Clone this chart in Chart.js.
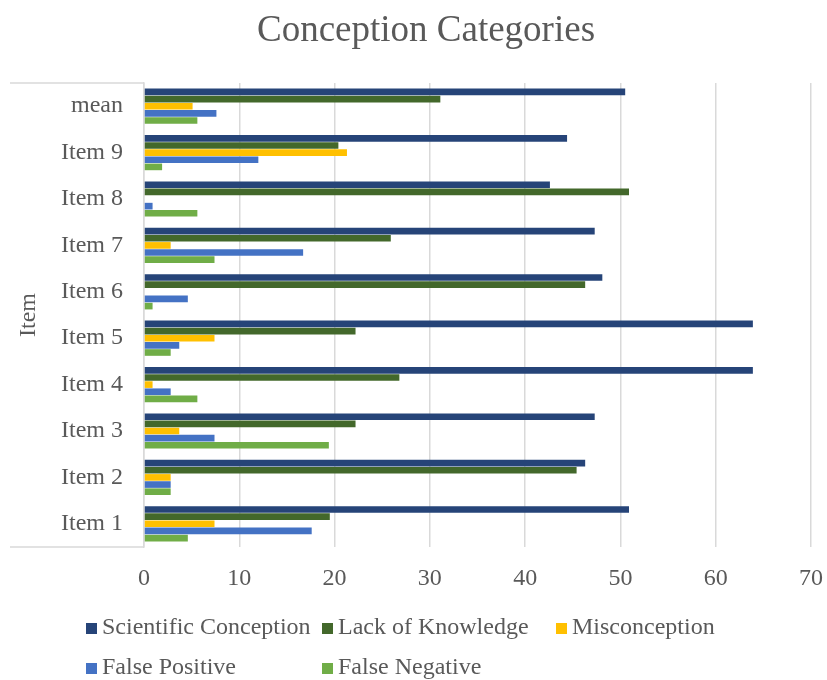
<!DOCTYPE html>
<html>
<head>
<meta charset="utf-8">
<title>Conception Categories</title>
<script src="https://cdn.jsdelivr.net/npm/chart.js@4.4.0/dist/chart.umd.min.js"></script>
<style>
  html, body { margin: 0; padding: 0; background: #ffffff; }
</style>
</head>
<body>
<canvas id="conceptionChart" width="827" height="680"></canvas>
<script>
// data (percent of answers)
const chartTitle = 'Conception Categories';
const items = ['Item 1', 'Item 2', 'Item 3', 'Item 4', 'Item 5', 'Item 6', 'Item 7', 'Item 8', 'Item 9', 'mean'];
const scientificConception = [50.9, 46.3, 47.3, 63.9, 63.9, 48.1, 47.3, 42.6, 44.4, 50.5];
const lackOfKnowledge = [19.5, 45.4, 22.2, 26.8, 22.2, 46.3, 25.9, 50.9, 20.4, 31.1];
const misconception = [7.4, 2.8, 3.7, 0.9, 7.4, 0, 2.8, 0, 21.3, 5.1];
const falsePositive = [17.6, 2.8, 7.4, 2.8, 3.7, 4.6, 16.7, 0.9, 12.0, 7.6];
const falseNegative = [4.6, 2.8, 19.4, 5.6, 2.8, 0.9, 7.4, 5.6, 1.9, 5.6];
const xTicks = [0, 10, 20, 30, 40, 50, 60, 70];

const textColor = '#595959';
const gridColor = '#d9d9d9';
const serif = '"Liberation Serif", "Times New Roman", serif';

// title, category box lines and the two-row legend are drawn by hand
const decorations = {
    id: 'decorations',
    afterDraw(chart) {
        const ctx = chart.ctx;
        const area = chart.chartArea;
        ctx.save();

        ctx.fillStyle = textColor;
        ctx.font = '37px ' + serif;
        ctx.textAlign = 'center';
        ctx.textBaseline = 'middle';
        ctx.fillText(chartTitle, 426, 31);

        ctx.strokeStyle = gridColor;
        ctx.lineWidth = 1.5;
        ctx.beginPath();
        ctx.moveTo(10, area.top);
        ctx.lineTo(area.left, area.top);
        ctx.moveTo(10, area.bottom);
        ctx.lineTo(area.left, area.bottom);
        ctx.stroke();

        const slots = [[86, 628], [322, 628], [556, 628], [86, 668], [322, 668]];
        ctx.font = '24px ' + serif;
        ctx.textAlign = 'left';
        chart.data.datasets.forEach((ds, i) => {
            const [x, y] = slots[i];
            ctx.fillStyle = ds.backgroundColor;
            ctx.fillRect(x, y - 5, 11, 11);
            ctx.fillStyle = textColor;
            ctx.fillText(ds.label, x + 16, y);
        });
        ctx.restore();
    }
};

const ctx = document.getElementById('conceptionChart').getContext('2d');
const conceptionChart = new Chart(ctx, {
    type: 'bar',
    data: {
        labels: items,
        datasets: [
            { label: 'Scientific Conception', data: scientificConception, backgroundColor: '#264478' },
            { label: 'Lack of Knowledge', data: lackOfKnowledge, backgroundColor: '#43682B' },
            { label: 'Misconception', data: misconception, backgroundColor: '#FFC000' },
            { label: 'False Positive', data: falsePositive, backgroundColor: '#4472C4' },
            { label: 'False Negative', data: falseNegative, backgroundColor: '#70AD47' }
        ]
    },
    options: {
        indexAxis: 'y',
        responsive: false,
        animation: false,
        layout: {
            padding: { top: 83, right: 16, bottom: 90, left: 0 }
        },
        datasets: {
            bar: { categoryPercentage: 0.77, barPercentage: 0.93 }
        },
        plugins: {
            legend: { display: false },
            tooltip: { enabled: false }
        },
        scales: {
            x: {
                min: 0,
                max: 70,
                afterBuildTicks: scale => { scale.ticks = xTicks.map(v => ({ value: v })); },
                afterFit: scale => {
                    scale.height = 43;
                    scale.paddingLeft = 0;
                    scale.paddingRight = 0;
                },
                grid: { color: gridColor, lineWidth: 1.5, drawTicks: false },
                border: { display: false },
                ticks: { color: textColor, padding: 17, font: { family: serif, size: 24 } }
            },
            y: {
                reverse: true,
                afterFit: scale => { scale.width = 144; },
                grid: { display: false, drawTicks: false },
                border: { display: true, color: gridColor, width: 1.5 },
                ticks: { color: textColor, padding: 21, font: { family: serif, size: 24 } },
                title: {
                    display: true,
                    text: 'Item',
                    color: textColor,
                    padding: { top: 14, bottom: 0 },
                    font: { family: serif, size: 24 }
                }
            }
        }
    },
    plugins: [decorations]
});
</script>
</body>
</html>
